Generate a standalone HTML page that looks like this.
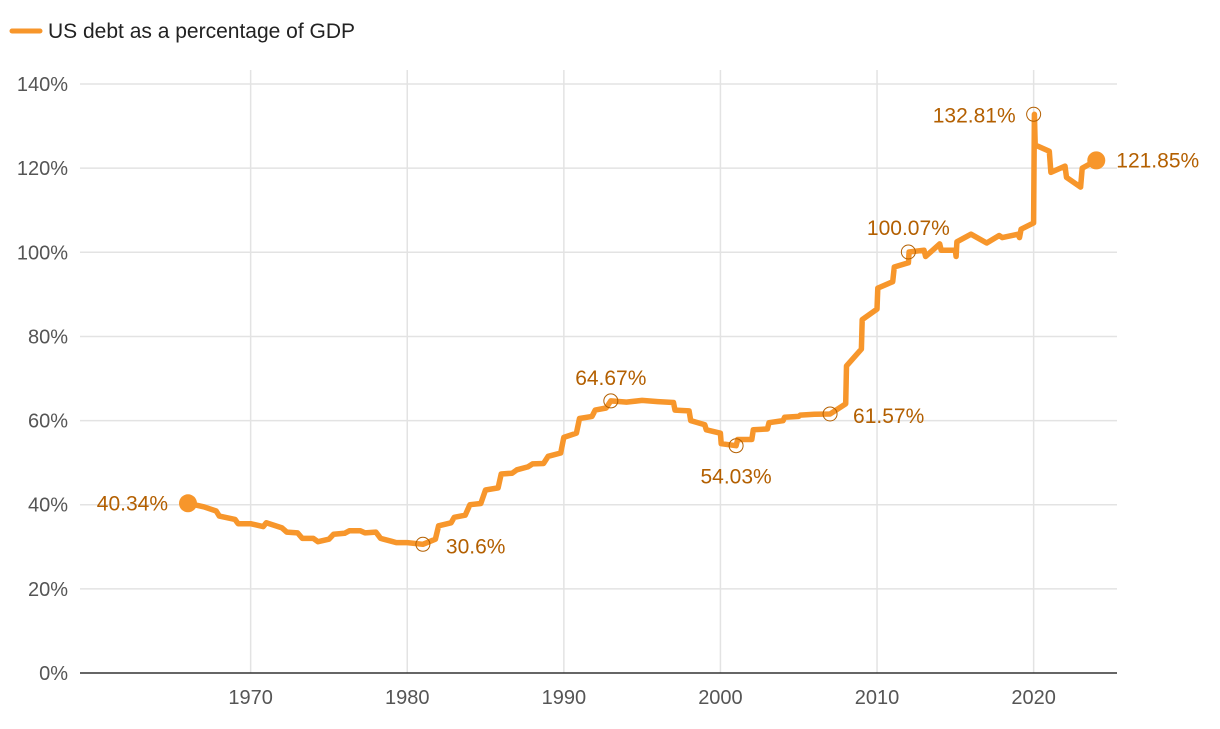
<!DOCTYPE html>
<html><head><meta charset="utf-8"><style>
body{margin:0;background:#fff;font-family:"Liberation Sans",sans-serif}
svg text{font-family:"Liberation Sans",sans-serif}
</style></head><body>
<svg id="c" width="1220" height="724">
<g id="grid"></g>
<g>
<line x1="12" y1="31" x2="40" y2="31" stroke="#f7962b" stroke-width="5" stroke-linecap="round"/>
<text x="48" y="38" font-size="21" fill="#222">US debt as a percentage of GDP</text>
</g>
</svg>
<script>
const years=[1966,1967,1967.8,1968,1969,1969.2,1970,1970.8,1971,1972,1972.3,1973,1973.3,1974,1974.3,1975,1975.3,1976,1976.3,1977,1977.3,1978,1978.3,1979,1979.3,1980,1981,1981.8,1982,1982.8,1983,1983.7,1984,1984.7,1985,1985.8,1986,1986.7,1987,1987.7,1988,1988.7,1989,1989.8,1990,1990.8,1991,1991.8,1992,1992.7,1993,1994,1995,1996,1997,1997.1,1998,1998.1,1999,1999.1,2000,2000.05,2001,2001.1,2002,2002.1,2003,2003.1,2004,2004.1,2005,2005.1,2006,2007,2008,2008.05,2009,2009.05,2010,2010.05,2011,2011.1,2012,2012.05,2013,2013.1,2014,2014.1,2015,2015.05,2015.1,2016,2017,2017.8,2018,2019,2019.1,2019.2,2020,2020.05,2020.1,2021,2021.1,2022,2022.1,2023,2023.1,2024];
const values=[40.34,39.5,38.5,37.3,36.5,35.5,35.5,34.8,35.7,34.5,33.5,33.3,32,32,31.2,31.8,33,33.2,33.8,33.8,33.3,33.5,32,31.3,31,31,30.6,31.8,35,35.7,37,37.5,40,40.3,43.5,44,47.3,47.5,48.3,49,49.7,49.8,51.5,52.3,56,57,60.5,61,62.5,63,64.67,64.4,64.8,64.5,64.3,62.5,62.3,60,59,57.8,57,54.5,54.03,55.5,55.5,57.8,58,59.5,60,60.8,61,61.3,61.5,61.57,64,73,77,84,86.5,91.5,93,96.5,97.5,100.07,100.5,99,102,100.5,100.5,99,102.5,104.3,102.2,104,103.5,104.3,103.5,105.5,107,132.81,125.5,124,119,120.5,117.8,115.5,120,121.85];
const yTicks=[0,20,40,60,80,100,120,140];
const xTicks=[1970,1980,1990,2000,2010,2020];
const annYears=[1981,1993,2001,2007,2012,2020];
const annVals=[30.6,64.67,54.03,61.57,100.07,132.81];
const annAnchor=['start','middle','middle','start','middle','end'];
const annDx=[23,0,0,23,0,-18];
const annDy=[9,-16,38,9,-17,8];
const X=y=>188+(y-1966)*15.66;
const Y=v=>673-v*4.207;
const NS='http://www.w3.org/2000/svg';
const svg=document.getElementById('c'),grid=document.getElementById('grid');
function mk(t,a,p){const e=document.createElementNS(NS,t);for(const k in a)e.setAttribute(k,a[k]);(p||svg).appendChild(e);return e;}
yTicks.forEach(v=>{
 if(v>0){const l=mk('line',{x1:80,x2:1117,y1:Y(v),y2:Y(v),stroke:'#e3e3e3','stroke-width':1.5},grid);
 
 }
 const t=mk('text',{x:68,y:Y(v)+7,'text-anchor':'end','font-size':20,fill:'#555'});t.textContent=v+'%';
 
 
});
xTicks.forEach(y=>{
 const l=mk('line',{x1:X(y),x2:X(y),y1:70,y2:673,stroke:'#e3e3e3','stroke-width':1.5},grid);
 
 
 const t=mk('text',{x:X(y),y:704,'text-anchor':'middle','font-size':20,fill:'#555'});t.textContent=y;
 
 
});
const ax=mk('line',{x1:80,x2:1117,y1:673,y2:673,stroke:'#333','stroke-width':1.5});


const d=years.map((y,i)=>(i?'L':'M')+X(y).toFixed(1)+','+Y(values[i]).toFixed(1)).join('');
const p=mk('path',{d:d,fill:'none',stroke:'#f7962b','stroke-width':5.5,'stroke-linejoin':'round','stroke-linecap':'round'});


annYears.forEach((y,i)=>{
 const c=mk('circle',{cx:X(y),cy:Y(annVals[i]),r:7,fill:'none',stroke:'#b35f00','stroke-width':1});
 
 
 const t=mk('text',{x:X(y)+annDx[i],y:Y(annVals[i])+annDy[i],'text-anchor':annAnchor[i],'font-size':21,fill:'#b35f00'});
 t.textContent=annVals[i]+'%';
 
 
});
[[0,'end',-20],[years.length-1,'start',20]].forEach(([i,a,dx])=>{
 const c=mk('circle',{cx:X(years[i]),cy:Y(values[i]),r:9,fill:'#f7962b'});
 
 
 const t=mk('text',{x:X(years[i])+dx,y:Y(values[i])+7,'text-anchor':a,'font-size':21,fill:'#b35f00'});
 t.textContent=values[i]+'%';
 
 
});
</script>
</body></html>
